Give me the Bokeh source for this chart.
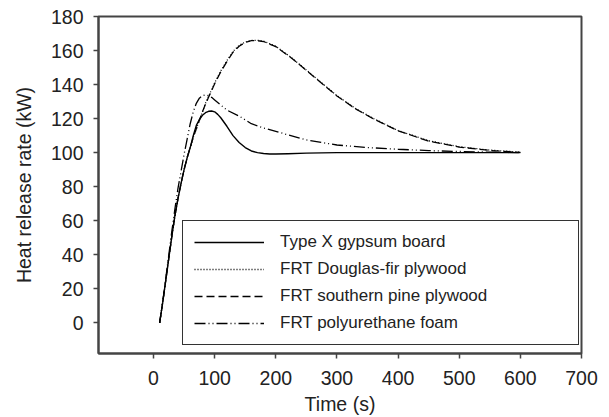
from bokeh.plotting import figure
from bokeh.models import Range1d, FixedTicker, Legend, LegendItem
from bokeh.embed import file_html
from bokeh.resources import INLINE

# ---- data ----
gyp_t = [10, 15, 20, 25, 30, 35, 40, 45, 50, 55, 60, 65, 70, 75, 80, 85, 90, 95, 100, 105, 110, 120,
         130, 140, 150, 160, 170, 180, 190, 200, 220, 250, 300, 400, 500, 600]
gyp_v = [0, 12, 25, 38, 51, 63, 73, 82, 90, 97, 103, 110, 116, 119.5, 122, 123.5, 124.3, 124.5, 124,
         122.5, 120.5, 115.5, 110, 106, 103, 101, 100, 99.5, 99.2, 99.2, 99.4, 99.7, 100, 100, 100, 100]

dfir_t = [10, 15, 20, 25, 30, 35, 40, 45, 50, 55, 60, 65, 70, 75, 80, 85, 90, 100, 110, 120, 130, 140,
          150, 160, 170, 180, 200, 225, 250, 275, 300, 330, 360, 400, 450, 500, 550, 600]
dfir_v = [0, 12, 25, 38, 51, 63, 73, 82, 90, 97, 103, 109, 114, 119, 124, 129, 133, 141, 148, 154,
          159.5, 163, 165, 166, 166, 165.5, 162.5, 156, 148.5, 141, 133.5, 126, 120, 113, 107, 103.5,
          101.5, 100.3]

spine_t = [10, 15, 20, 25, 30, 35, 40, 45, 50, 55, 60, 65, 70, 75, 80, 85, 90, 100, 110, 120, 130, 140,
           150, 160, 170, 180, 200, 225, 250, 275, 300, 330, 360, 400, 450, 500, 550, 600]
spine_v = [0, 12, 25, 38, 51, 63, 73, 82, 90, 97, 103, 109, 114, 119, 124, 128.5, 132.5, 140.5, 147.5,
           153.5, 159, 162.5, 164.8, 165.8, 165.8, 165.3, 162.3, 155.8, 148.3, 140.8, 133.3, 125.8,
           119.8, 112.8, 106.8, 103.3, 101.3, 100.2]

pu_t = [10, 15, 20, 25, 30, 35, 40, 45, 50, 55, 60, 65, 70, 75, 80, 85, 90, 95, 100, 110, 120, 140,
        160, 180, 200, 250, 300, 350, 400, 450, 500, 550, 600]
pu_v = [0, 12, 26, 40, 54, 67, 79, 89, 99, 108, 117, 124, 129, 132, 133.5, 134, 133.5, 132.5, 131,
        128, 125, 121.5, 117, 114.5, 112.5, 107.5, 104.5, 103, 102, 101.2, 100.7, 100.3, 100]

labels = ["Type X gypsum board", "FRT Douglas-fir plywood",
          "FRT southern pine plywood", "FRT polyurethane foam"]
x_ticks = [0, 100, 200, 300, 400, 500, 600, 700]
y_ticks = [0, 20, 40, 60, 80, 100, 120, 140, 160, 180]

FONT = "Liberation Sans"
INK = "#222222"

p = figure(width=609, height=417, output_backend="svg", toolbar_location=None,
           x_range=Range1d(-90, 700), y_range=Range1d(-18, 180),
           min_border_left=98, min_border_right=28, min_border_top=16, min_border_bottom=63)
p.grid.visible = False
p.background_fill_color = "white"
p.border_fill_color = "white"
p.outline_line_color = "#444444"
p.outline_line_width = 2

for ax in (p.xaxis[0], p.yaxis[0]):
    ax.axis_line_color = "#444444"
    ax.axis_line_width = 2
    ax.major_tick_in = 0
    ax.major_tick_out = 5
    ax.major_tick_line_color = "#444444"
    ax.major_tick_line_width = 1.5
    ax.minor_tick_line_color = None
    ax.major_label_text_font = FONT
    ax.major_label_text_font_size = "19.5px"
    ax.major_label_text_color = INK
    ax.axis_label_text_font = FONT
    ax.axis_label_text_font_size = "19.5px"
    ax.axis_label_text_font_style = "normal"
    ax.axis_label_text_color = INK

p.xaxis.ticker = FixedTicker(ticks=x_ticks)
p.yaxis.ticker = FixedTicker(ticks=y_ticks)
p.xaxis.axis_label = "Time (s)"
p.yaxis.axis_label = "Heat release rate (kW)"
p.xaxis.major_label_standoff = 12
p.yaxis.major_label_standoff = 10
p.xaxis.axis_label_standoff = 5
p.yaxis.axis_label_standoff = 13

r1 = p.line(gyp_t, gyp_v, line_color="black", line_width=1.4)
r2 = p.line(dfir_t, dfir_v, line_color="black", line_width=1.3, line_dash="1 2")
r3 = p.line(spine_t, spine_v, line_color="black", line_width=1.3, line_dash="8 4")
r4 = p.line(pu_t, pu_v, line_color="black", line_width=1.3, line_dash="11 3 1 3 1 3")

legend = Legend(items=[LegendItem(label=labels[0], renderers=[r1]),
                       LegendItem(label=labels[1], renderers=[r2]),
                       LegendItem(label=labels[2], renderers=[r3]),
                       LegendItem(label=labels[3], renderers=[r4])],
                location=(84, 8))
legend.label_text_font = FONT
legend.label_text_font_size = "17px"
legend.label_text_color = INK
legend.glyph_width = 70
legend.glyph_height = 20
legend.label_height = 20
legend.label_standoff = 16
legend.label_width = 287
legend.spacing = 7
legend.padding = 11
legend.margin = 0
legend.border_line_color = "#333333"
legend.border_line_alpha = 1
legend.border_line_width = 1.5
legend.background_fill_color = "white"
legend.background_fill_alpha = 1
p.add_layout(legend, "center")

open("out.html", "w").write(file_html(p, INLINE))
